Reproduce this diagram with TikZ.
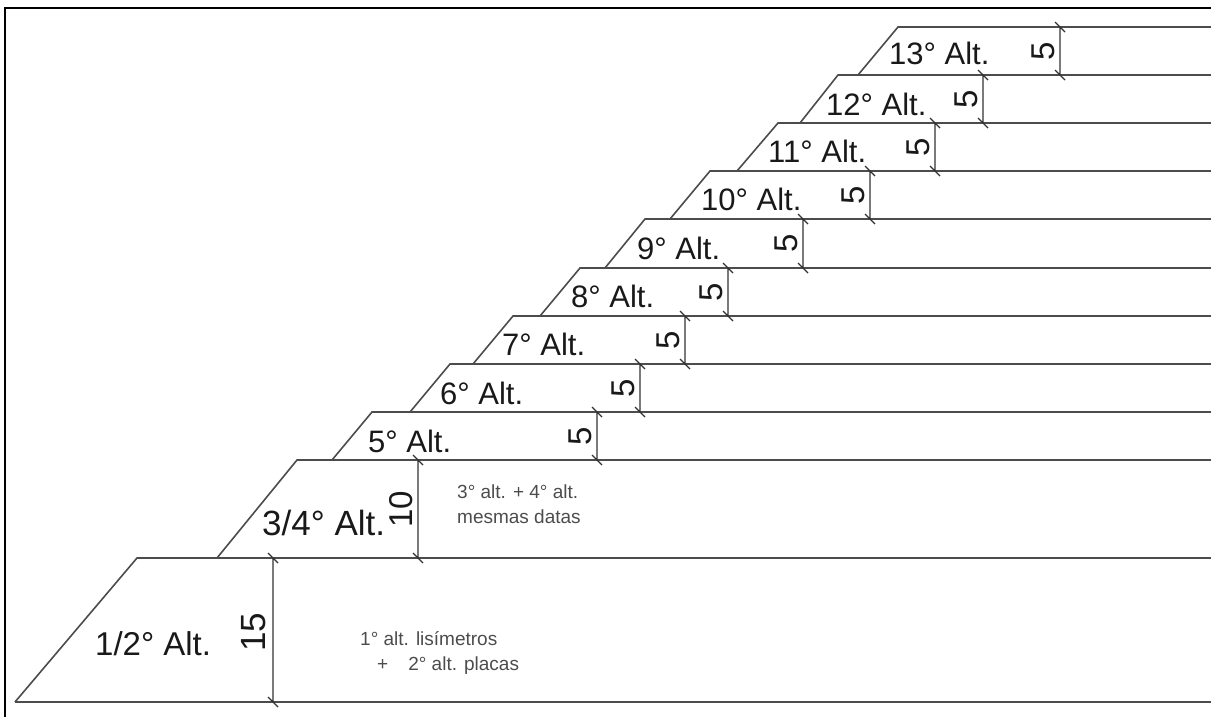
\documentclass[tikz,border=0pt]{standalone}
\usepackage{fontspec}
\setmainfont{Liberation Sans}
\begin{document}
\begin{tikzpicture}[x=1pt, y=-1pt,
  frame/.style={draw=black, line width=2.2pt},
  layer/.style={draw=black!70, line width=1.6pt},
  dimln/.style={draw=black!80, line width=1.1pt},
  alt/.style={font=\fontsize{31}{36}\selectfont, anchor=base west, inner sep=0pt, text=black!90},
  num/.style={font=\fontsize{33}{36}\selectfont, rotate=90, inner sep=0pt, text=black!90},
  note/.style={font=\fontsize{19}{25}\selectfont, anchor=base west, align=left, inner sep=0pt, text=black!70}]
  \useasboundingbox (0,0) rectangle (1211,717);
  \draw[frame] (5,717) -- (5,8) -- (1211,8);
  % layers, bottom to top
  \draw[layer] (15,702) -- (1211,702);
  \draw[layer] (15,702) -- (137,558) -- (1211,558);
  \draw[layer] (217,558) -- (297,460) -- (1211,460);
  \draw[layer] (332,460) -- (372,412) -- (1211,412);
  \draw[layer] (410,412) -- (450,364) -- (1211,364);
  \draw[layer] (473,364) -- (513,316) -- (1211,316);
  \draw[layer] (540,316) -- (580,268) -- (1211,268);
  \draw[layer] (605,268) -- (645,219) -- (1211,219);
  \draw[layer] (670,219) -- (710,171) -- (1211,171);
  \draw[layer] (737,171) -- (778,123) -- (1211,123);
  \draw[layer] (800,123) -- (838,75) -- (1211,75);
  \draw[layer] (858,75) -- (898,27) -- (1211,27);
  % dimension lines
  \coordinate (t15) at (273,558);  \coordinate (b15) at (273,702);
  \coordinate (t10) at (418,460);  \coordinate (b10) at (418,558);
  \coordinate (t5) at (597,412);   \coordinate (b5) at (597,460);
  \coordinate (t6) at (640,364);   \coordinate (b6) at (640,412);
  \coordinate (t7) at (685,316);   \coordinate (b7) at (685,364);
  \coordinate (t8) at (728,268);   \coordinate (b8) at (728,316);
  \coordinate (t9) at (803,219);   \coordinate (b9) at (803,268);
  \coordinate (t10b) at (870,171); \coordinate (b10b) at (870,219);
  \coordinate (t11) at (935,123);  \coordinate (b11) at (935,171);
  \coordinate (t12) at (983,75);   \coordinate (b12) at (983,123);
  \coordinate (t13) at (1060,27);  \coordinate (b13) at (1060,75);
  \foreach \d in {15,10,5,6,7,8,9,10b,11,12,13}
    \draw[dimln] (t\d) -- (b\d) (t\d) ++(-5,-5) -- ++(10,10) (b\d) ++(-5,-5) -- ++(10,10);
  \node[num, font=\fontsize{35}{38}\selectfont] (n15) at (254,632) {15};
  \node[num] (n10) at (401,509) {10};
  \node[num] (n5) at (580,436) {5};
  \node[num] (n6) at (623,388) {5};
  \node[num] (n7) at (668,340) {5};
  \node[num] (n8) at (711,292) {5};
  \node[num] (n9) at (786,243) {5};
  \node[num] (n10b) at (853,195) {5};
  \node[num] (n11) at (918,147) {5};
  \node[num] (n12) at (966,99) {5};
  \node[num] (n13) at (1043,51) {5};
  % layer names
  \node[alt, font=\fontsize{33}{36}\selectfont] (a12) at (95,655) {1/2° Alt.};
  \node[alt, font=\fontsize{35}{38}\selectfont] (a34) at (262,535) {3/4° Alt.};
  \node[alt] (a5) at (368,452) {5° Alt.};
  \node[alt] (a6) at (440,404) {6° Alt.};
  \node[alt] (a7) at (502,355) {7° Alt.};
  \node[alt] (a8) at (571,307) {8° Alt.};
  \node[alt] (a9) at (637,259) {9° Alt.};
  \node[alt] (a10) at (701,210) {10° Alt.};
  \node[alt] (a11) at (768,162) {11° Alt.};
  \node[alt] (a12b) at (826,115) {12° Alt.};
  \node[alt] (a13) at (889,65) {13° Alt.};
  % notes (base = last line)
  \node[note] (m12) at (360,670) {1° alt. lisímetros\\\hspace*{17pt}+\hspace{20pt}2° alt. placas};
  \node[note] (m34) at (457,523) {3° alt. + 4° alt.\\mesmas datas};
\end{tikzpicture}
\end{document}
